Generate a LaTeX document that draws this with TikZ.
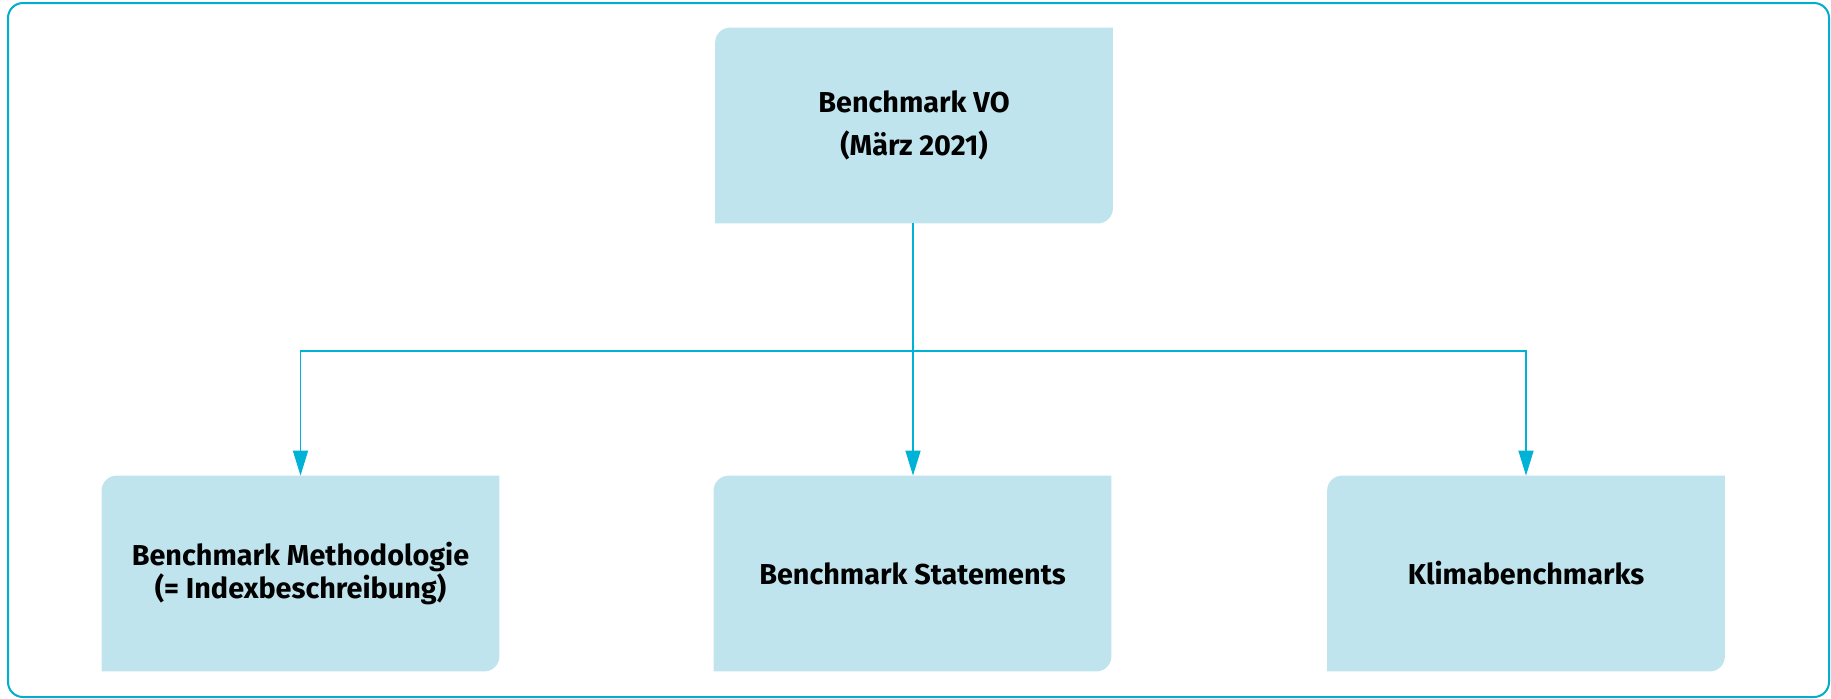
\documentclass[tikz,border=0pt]{standalone}
\usepackage{fontspec}
\setmainfont{Fira Sans}
\usetikzlibrary{arrows.meta,backgrounds}
\definecolor{framecol}{HTML}{00AECD}
\definecolor{linkcol}{HTML}{00B2D6}
\definecolor{boxfill}{HTML}{C0E4ED}

\begin{document}
\begin{tikzpicture}[x=0.5pt, y=-0.5pt,
    box/.style = {minimum width=198.5pt, minimum height=97.5pt,
    align=center, font=\fontsize{14.4}{16.5}\selectfont\bfseries},
    link/.style = {draw=linkcol, line width=0.8pt,
    -{Triangle[length=12.5pt, width=7.5pt]}}
    ]
    \useasboundingbox (0,0) rectangle (1831,698);
    \draw[framecol, line width=1pt, rounded corners=7.5pt] (8,3) rectangle (1829,697);

    % boxes
    \node[box] (top) at (914,125.5) {Benchmark VO\\[5pt](März 2021)};
    \node[box] (left) at (300.5,573.5) {Benchmark Methodologie\\(= Indexbeschreibung)};
    \node[box] (mid) at (912.5,573.5) {Benchmark Statements};
    \node[box] (right) at (1526,573.5) {Klimabenchmarks};

    % fill with two round corners
    \begin{pgfonlayer}{background}
    \foreach \n in {top,left,mid,right}
      \fill[boxfill] (\n.south west)
        [rounded corners=7.5pt] -- (\n.north west)
        [sharp corners] -- (\n.north east)
        [rounded corners=7.5pt] -- (\n.south east)
        [sharp corners] -- (\n.south west) -- cycle;
    \end{pgfonlayer}

    % links
    \coordinate (fork) at (913,351);
    \draw[link] (top.south -| fork) -- (fork) -| (left.north);
    \draw[link] (top.south -| fork) -- (mid.north -| fork);
    \draw[link] (top.south -| fork) -- (fork) -| (right.north);
\end{tikzpicture}
\end{document}
